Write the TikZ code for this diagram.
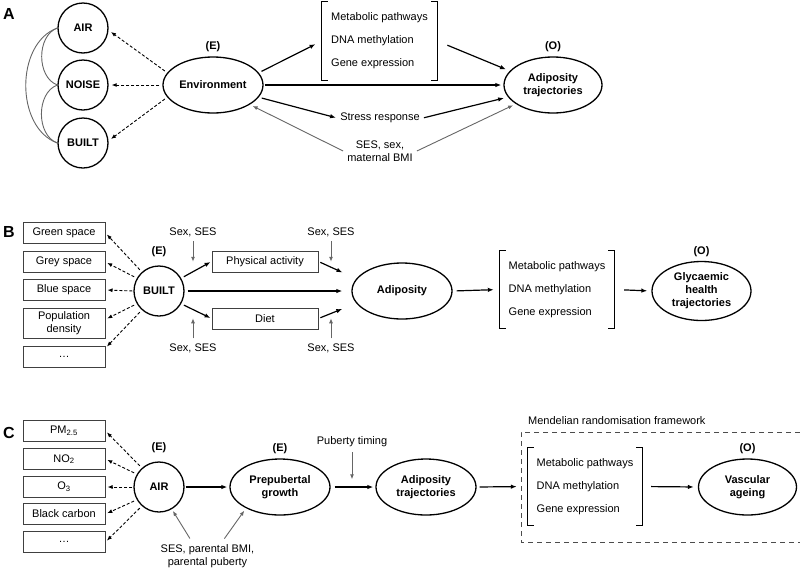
\documentclass[tikz,border=0pt]{standalone}
\usepackage{fontspec}
\setmainfont{Liberation Sans}
\usetikzlibrary{shapes.geometric,arrows.meta,positioning}

\begin{document}
\begin{tikzpicture}[x=1pt,y=1pt,font=\fontsize{11}{13}\selectfont,
    var/.style={circle,draw,line width=1.3pt,minimum size=50pt,inner sep=0pt,font=\fontsize{11}{13}\selectfont\bfseries},
    oval/.style={ellipse,draw,line width=1.3pt,minimum width=100pt,minimum height=56pt,inner sep=0pt,align=center,font=\fontsize{11}{13}\selectfont\bfseries},
    tag/.style={inner sep=1pt,font=\fontsize{11}{13}\selectfont\bfseries},
    panel/.style={inner sep=0pt,font=\fontsize{16}{16}\selectfont\bfseries},
    item/.style={draw=black!75,line width=1pt,minimum width=82pt,minimum height=21pt,inner sep=1pt,align=center},
    mech/.style={minimum width=115pt,minimum height=78pt,inner sep=0pt,align=left,font=\fontsize{11}{23}\selectfont},
    txt/.style={inner sep=1pt,align=center},
    arr/.style={-{Latex[length=6pt,width=4.5pt]},line width=1.2pt},
    darr/.style={-{Latex[length=5pt,width=4pt]},line width=0.9pt,dash pattern=on 3pt off 2pt},
    garr/.style={-{Latex[length=5pt,width=4pt]},line width=0.9pt,black!60},
    corr/.style={line width=0.9pt,black!60},
    brk/.style={line width=1pt},
    mrbox/.style={line width=0.9pt,black!70,dash pattern=on 5pt off 4pt}]
  \useasboundingbox (0,0) rectangle (800,-571);

  %% panel A
  \node[panel] (labA) at (9,-13.5) {A};
  \node[var] (air) at (83,-28) {AIR};
  \node[var] (noise) at (83,-85) {NOISE};
  \node[var] (built) at (83,-143) {BUILT};
  \node[oval] (env) at (213,-85) {Environment};
  \node[tag,above=3pt of env] (envE) {(E)};
  \node[mech] (mechA) at (379.5,-41) {Metabolic pathways\\DNA methylation\\Gene expression};
  \node[oval,minimum width=98pt] (adiA) at (553,-85) {Adiposity\\trajectories};
  \node[tag,above=3pt of adiA] (adiAO) {(O)};
  \node[txt,inner sep=3pt] (stress) at (380,-118) {Stress response};
  \node[txt,inner sep=4pt] (sesA) at (380,-151) {SES, sex,\\maternal BMI};

  \draw[corr] (air.west) to[out=200,in=160] (noise.west);
  \draw[corr] (noise.west) to[out=200,in=160] (built.west);
  \draw[corr] (air.west) to[out=200,in=160] (built.west);

  \draw[darr,shorten <=3pt,shorten >=3pt] (env.165) -- (air.-5);
  \draw[darr,shorten <=3pt,shorten >=3pt] (env.west) -- (noise.east);
  \draw[darr,shorten <=3pt,shorten >=3pt] (env.195) -- (built.5);
  \draw[arr,shorten <=3pt,shorten >=7pt] (env.15) -- (mechA.west);
  \draw[arr,shorten <=11pt,shorten >=4pt] (mechA.east) -- (adiA.162);
  \draw[arr,shorten <=1pt,shorten >=2pt] (env.east) -- (adiA.west);
  \draw[arr,shorten <=3pt,shorten >=1pt] (env.-15) -- (stress.west);
  \draw[arr,shorten <=1pt,shorten >=4pt] (stress.east) -- (adiA.195);
  \draw[garr,shorten >=3pt] (sesA.west) -- (env.-28);
  \draw[garr,shorten >=3pt] (sesA.east) -- (adiA.207);

  %% panel B
  \node[panel] (labB) at (9,-232) {B};
  \node[item] (green) at (64,-233) {Green space};
  \node[item] (grey) at (64,-262) {Grey space};
  \node[item] (blue) at (64,-290) {Blue space};
  \node[item,minimum height=30pt] (popd) at (64,-323) {Population\\density};
  \node[item] (dotsB) at (64,-357) {\ldots};
  \node[var] (builtB) at (159,-291) {BUILT};
  \node[tag,above=7pt of builtB] (builtE) {(E)};
  \node[item,minimum width=106pt] (pa) at (265,-261.5) {Physical activity};
  \node[item,minimum width=106pt] (diet) at (265,-318.5) {Diet};
  \node[oval] (adiB) at (402,-291) {Adiposity};
  \node[mech,minimum width=114pt,minimum height=77pt] (mechB) at (557,-289.5) {Metabolic pathways\\DNA methylation\\Gene expression};
  \node[oval,minimum width=99pt,minimum height=59pt] (glyc) at (701.5,-291) {Glycaemic\\health\\trajectories};
  \node[tag,above=3pt of glyc] (glycO) {(O)};
  \node[txt] (sx1) at (193,-232) {Sex, SES};
  \node[txt] (sx2) at (331,-232) {Sex, SES};
  \node[txt] (sx3) at (193,-348) {Sex, SES};
  \node[txt] (sx4) at (331,-348) {Sex, SES};

  \draw[darr,shorten <=3pt,shorten >=2pt] (builtB.132) -- (green.east);
  \draw[darr,shorten <=3pt,shorten >=2pt] (builtB.150) -- (grey.east);
  \draw[darr,shorten <=1pt,shorten >=2pt] (builtB.west) -- (blue.east);
  \draw[darr,shorten <=3pt,shorten >=2pt] (builtB.210) -- (popd.5);
  \draw[darr,shorten <=3pt,shorten >=2pt] (builtB.228) -- ([yshift=-2pt]dotsB.north east);
  \draw[arr,shorten <=3pt,shorten >=1pt] (builtB.30) -- (pa.west);
  \draw[arr,shorten <=3pt,shorten >=1pt] (builtB.-30) -- (diet.west);
  \draw[arr,shorten <=3pt,shorten >=9pt] (builtB.east) -- (adiB.west);
  \draw[arr,shorten <=2pt,shorten >=15pt] (pa.east) -- (adiB.165);
  \draw[arr,shorten <=2pt,shorten >=15pt] (diet.east) -- (adiB.195);
  \draw[garr,shorten <=3pt] (sx1.south) -- ++(0,-24);
  \draw[garr,shorten <=3pt] (sx2.south) -- ++(0,-24);
  \draw[garr,shorten <=4pt] (sx3.north) -- ++(0,24);
  \draw[garr,shorten <=4pt] (sx4.north) -- ++(0,24);
  \draw[arr,shorten <=4pt,shorten >=6pt] (adiB.east) -- (mechB.west);
  \draw[arr,shorten <=10pt,shorten >=4pt] (mechB.east) -- (glyc.west);

  %% panel C
  \node[panel] (labC) at (9,-432.5) {C};
  \node[item] (pm) at (64,-431) {PM\textsubscript{2.5}};
  \node[item] (no2) at (64,-459) {NO\textsubscript{2}};
  \node[item] (o3) at (64,-487) {O\textsubscript{3}};
  \node[item] (bc) at (64,-514) {Black carbon};
  \node[item] (dotsC) at (64,-542) {\ldots};
  \node[var] (airC) at (159,-487) {AIR};
  \node[tag,above=7pt of airC] (airE) {(E)};
  \node[oval] (prep) at (280,-487) {Prepubertal\\growth};
  \node[tag,above=3pt of prep] (prepE) {(E)};
  \node[txt] (pub) at (352,-442) {Puberty timing};
  \node[oval] (adiC) at (426,-487) {Adiposity\\trajectories};
  \node[txt,inner sep=2pt] (sesC) at (207.5,-556.5) {SES, parental BMI,\\parental puberty};
  \node[anchor=west,inner sep=0pt] (mr) at (528,-421) {Mendelian randomisation framework};
  \draw[mrbox] (800,-432) -| (521,-542) -- (800,-542);
  \node[mech,minimum width=114pt,minimum height=77pt] (mechC) at (585,-486.5) {Metabolic pathways\\DNA methylation\\Gene expression};
  \node[oval,minimum width=98pt] (vasc) at (747.5,-487) {Vascular\\ageing};
  \node[tag,above=3pt of vasc] (vascO) {(O)};

  \draw[darr,shorten <=3pt,shorten >=2pt] (airC.132) -- (pm.east);
  \draw[darr,shorten <=3pt,shorten >=2pt] (airC.150) -- (no2.east);
  \draw[darr,shorten <=1pt,shorten >=2pt] (airC.west) -- (o3.east);
  \draw[darr,shorten <=3pt,shorten >=2pt] (airC.210) -- (bc.east);
  \draw[darr,shorten <=3pt,shorten >=2pt] (airC.228) -- (dotsC.east);
  \draw[arr,shorten <=1pt,shorten >=2pt] (airC.east) -- (prep.west);
  \draw[arr,shorten <=4pt,shorten >=2pt] (prep.east) -- (adiC.west);
  \draw[garr,shorten <=4pt] (pub.south) -- ++(0,-31);
  \draw[garr,shorten <=5pt,shorten >=2pt] ([xshift=-15pt]sesC.north) -- (airC.-60);
  \draw[garr,shorten <=5pt,shorten >=3pt] ([xshift=14pt]sesC.north) -- (prep.212);
  \draw[arr,shorten <=3pt,shorten >=11pt] (adiC.east) -- (mechC.west);
  \draw[arr,shorten <=9pt,shorten >=4pt] (mechC.east) -- (vasc.west);

  %% brackets
  \foreach \m in {mechA,mechB,mechC} {
    \draw[brk] ([xshift=6pt]\m.north west) -- (\m.north west) -- (\m.south west) -- ++(6,0);
    \draw[brk] ([xshift=-6pt]\m.north east) -- (\m.north east) -- (\m.south east) -- ++(-6,0);
  }
\end{tikzpicture}
\end{document}
